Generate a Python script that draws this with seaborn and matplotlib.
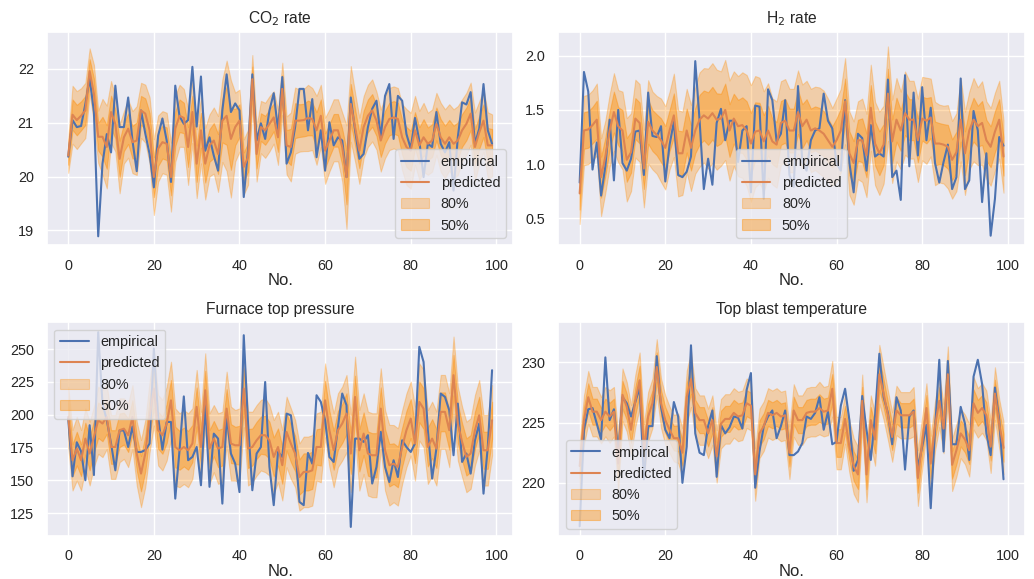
import numpy as np
import pandas as pd
import matplotlib
matplotlib.use("Agg")
import matplotlib.pyplot as plt
import seaborn as sns

# ---------------- data ----------------
idx = list(range(100))

co2_emp = [20.37, 21.05, 20.92, 20.94, 21.35, 21.83, 21.2, 18.89, 20.24, 20.79,
           20.45, 21.69, 20.92, 20.92, 21.47, 20.67, 20.1, 21.23, 20.8, 20.42,
           19.8, 20.76, 21.08, 20.67, 19.9, 21.69, 21.12, 20.98, 21.05, 22.04,
           20.93, 21.86, 20.48, 20.73, 20.39, 20.11, 21.23, 21.9, 21.2, 21.36,
           21.23, 19.62, 20.5, 21.9, 20.67, 20.99, 20.7, 21.23, 21.55, 20.87,
           21.85, 20.24, 20.45, 20.92, 21.63, 21.63, 20.86, 21.44, 20.36, 20.86,
           20.11, 21.01, 20.58, 20.73, 20.67, 19.99, 21.47, 20.86, 20.33, 20.42,
           20.92, 21.26, 21.41, 20.73, 21.5, 21.72, 20.7, 21.5, 21.41, 20.79,
           20.52, 21.09, 20.67, 19.99, 20.61, 20.55, 21.2, 20.61, 20.45, 20.64,
           19.74, 20.73, 21.38, 21.34, 21.57, 20.61, 20.89, 21.72, 20.86, 20.61]
co2_pred = [20.39, 21.15, 21.05, 21.13, 21.23, 21.96, 21.54, 20.74, 20.74, 20.55,
            21.2, 20.98, 20.33, 20.73, 20.89, 20.64, 20.67, 21.23, 21.17, 20.86,
            19.99, 20.52, 20.64, 20.61, 19.99, 20.89, 21.13, 21.09, 20.55, 21.2,
            20.24, 20.86, 20.24, 20.58, 20.67, 20.42, 21.04, 21.13, 20.7, 20.92,
            21.04, 20.18, 20.36, 21.81, 20.42, 20.92, 20.86, 20.98, 21.1, 20.73,
            21.63, 20.58, 20.55, 21.04, 21.04, 21.05, 21.09, 21.07, 20.86, 21.13,
            20.48, 20.67, 20.86, 20.86, 20.55, 19.99, 21.35, 20.92, 20.48, 20.92,
            21.13, 21.23, 21.04, 20.67, 20.92, 21.07, 21.1, 21.07, 20.73, 20.55,
            20.48, 20.86, 20.58, 20.73, 20.61, 20.67, 20.98, 20.73, 20.61, 20.73,
            20.61, 20.67, 20.86, 20.98, 21.17, 20.55, 20.82, 21.04, 20.58, 20.58]
co2_sd = [0.25, 0.42, 0.42, 0.40, 0.40, 0.33, 0.42, 0.38, 0.55, 0.60,
          0.45, 0.40, 0.50, 0.38, 0.42, 0.45, 0.50, 0.40, 0.42, 0.48,
          0.55, 0.48, 0.45, 0.45, 0.50, 0.48, 0.45, 0.42, 0.55, 0.45,
          0.50, 0.48, 0.52, 0.45, 0.48, 0.55, 0.60, 0.80, 0.85, 0.50,
          0.45, 0.40, 0.40, 0.35, 0.40, 0.38, 0.40, 0.40, 0.38, 0.40,
          0.38, 0.42, 0.50, 0.48, 0.45, 0.45, 0.48, 0.45, 0.50, 0.45,
          0.48, 0.45, 0.45, 0.45, 0.50, 0.75, 0.55, 0.50, 0.48, 0.45,
          0.45, 0.45, 0.42, 0.45, 0.45, 0.45, 0.45, 0.45, 0.48, 0.55,
          0.55, 0.50, 0.50, 0.50, 0.45, 0.45, 0.45, 0.50, 0.50, 0.48,
          0.50, 0.50, 0.45, 0.45, 0.45, 0.50, 0.45, 0.45, 0.48, 0.45]

h2_emp = [0.83, 1.85, 1.67, 0.95, 1.2, 0.71, 0.98, 1.41, 0.85, 1.5,
          1.01, 0.94, 1.05, 1.3, 1.31, 0.9, 1.66, 1.26, 1.25, 1.35,
          0.84, 1.18, 1.39, 0.9, 0.88, 0.93, 1.07, 1.95, 1.41, 0.77,
          1.05, 0.81, 1.38, 1.51, 1.22, 1.4, 1.4, 1.02, 1.31, 1.35,
          0.74, 1.54, 1.53, 0.68, 1.69, 1.59, 1.21, 1.28, 1.59, 0.9,
          0.79, 1.72, 1.02, 0.94, 1.22, 1.31, 1.33, 1.65, 1.4, 1.33,
          1.01, 0.94, 1.59, 1.01, 0.74, 1.28, 1.24, 0.94, 1.36, 1.07,
          1.1, 1.07, 1.78, 0.88, 0.94, 0.67, 1.82, 0.98, 1.66, 1.08,
          1.71, 1.22, 1.52, 1.01, 0.83, 1.02, 1.18, 0.77, 0.88, 1.79,
          0.77, 0.85, 1.49, 1.31, 0.65, 1.1, 0.34, 0.68, 1.25, 1.17]
h2_pred = [0.73, 1.31, 1.32, 1.36, 1.41, 0.88, 1.07, 1.31, 1.48, 1.35,
           1.31, 1.04, 1.11, 1.42, 1.38, 0.96, 1.39, 1.31, 1.27, 1.22,
           1.15, 1.31, 1.45, 1.1, 1.1, 1.31, 1.15, 1.31, 1.41, 1.45,
           1.42, 1.47, 1.41, 1.42, 1.5, 1.31, 1.42, 1.35, 1.36, 1.31,
           1.19, 1.3, 1.31, 1.21, 1.31, 1.21, 1.18, 1.38, 1.4, 1.31,
           1.31, 1.48, 1.35, 1.41, 1.31, 1.33, 1.31, 1.28, 1.22, 1.16,
           1.22, 1.31, 1.58, 1.1, 1.01, 1.22, 1.22, 1.08, 1.52, 1.19,
           1.1, 1.18, 1.65, 1.21, 1.41, 1.31, 1.47, 1.41, 1.41, 1.22,
           1.42, 1.4, 1.43, 1.19, 1.19, 1.18, 1.16, 1.04, 1.11, 1.41,
           1.1, 1.31, 1.41, 1.35, 1.38, 1.22, 1.16, 1.3, 1.41, 1.07]
h2_sd = [0.22, 0.25, 0.25, 0.25, 0.26, 0.28, 0.26, 0.26, 0.28, 0.26,
         0.28, 0.30, 0.28, 0.28, 0.28, 0.28, 0.30, 0.28, 0.28, 0.30,
         0.30, 0.28, 0.30, 0.31, 0.30, 0.30, 0.31, 0.31, 0.34, 0.34,
         0.36, 0.36, 0.36, 0.34, 0.36, 0.36, 0.34, 0.36, 0.38, 0.40,
         0.42, 0.40, 0.38, 0.36, 0.34, 0.31, 0.31, 0.30, 0.30, 0.30,
         0.30, 0.30, 0.30, 0.28, 0.30, 0.30, 0.31, 0.31, 0.30, 0.28,
         0.30, 0.30, 0.31, 0.30, 0.30, 0.28, 0.30, 0.30, 0.31, 0.30,
         0.30, 0.28, 0.34, 0.30, 0.30, 0.28, 0.30, 0.28, 0.28, 0.30,
         0.30, 0.31, 0.28, 0.30, 0.28, 0.28, 0.30, 0.28, 0.28, 0.30,
         0.30, 0.28, 0.30, 0.28, 0.30, 0.28, 0.28, 0.28, 0.28, 0.26]

pres_emp = [197, 153, 179, 172, 150, 192, 154, 263, 208.5, 196,
            178, 157.6, 188, 188, 175.4, 191, 171.6, 171.6, 173, 178,
            250.5, 198.3, 173.4, 194.5, 194.5, 136, 173, 214, 165.3, 167.8,
            175.4, 146.2, 208.5, 145, 185.6, 181.8, 132.2, 199.6, 170.4, 162.7,
            141, 260.7, 193.3, 142.4, 170.4, 175.4, 225, 160.2, 131, 171.6,
            167.8, 200.9, 199.6, 175.4, 133.5, 131, 170.9, 162.7, 214.9, 209.8,
            195.8, 167.8, 164, 190.7, 216.2, 207.3, 114.4, 181.8, 181.8, 179.3,
            184.4, 147.5, 160.2, 186.9, 160.2, 148.7, 165.3, 152.5, 180.5, 175.4,
            171.6, 178, 251.8, 240.3, 188.2, 151.3, 174.2, 216.2, 213.6, 203.4,
            169.1, 208.5, 164, 170.4, 155.1, 180.5, 193.3, 139.8, 175.4, 234]
pres_pred = [198.3, 165.3, 174.2, 165.3, 181.8, 170.4, 183.1, 195.8, 193.3, 198.3,
             175.4, 175.4, 188.2, 189.4, 184.4, 198.3, 170.4, 155.1, 170.4, 198.3,
             220, 188.2, 184.4, 193.3, 211, 175.4, 172.9, 175.4, 172.9, 178,
             206, 175.4, 218.7, 174.2, 181.8, 174.2, 175.4, 204.7, 178, 176.7,
             176.7, 220, 174.2, 175.4, 180.5, 184.4, 184.4, 180.5, 167.8, 175.4,
             161.5, 186.9, 178, 170.4, 152.5, 156.4, 156.4, 157.6, 175.4, 175.4,
             211, 188.2, 172.9, 188.2, 193.3, 200.9, 170.4, 213.6, 172.9, 185.6,
             170.4, 169.1, 169.1, 204.7, 172.9, 161.5, 162.7, 160.2, 175.4, 188.2,
             197.1, 178, 209.8, 204.7, 175.4, 181.8, 174.2, 202.2, 202.2, 188.2,
             230.2, 193.3, 179.3, 167.8, 170.4, 188.2, 199.6, 172.9, 172.9, 195.8]
pres_sd = [18, 18, 19, 18, 18, 19, 18, 20, 20, 19,
           19, 19, 19, 18, 19, 19, 19, 20, 20, 21,
           22, 21, 21, 22, 23, 23, 22, 22, 22, 21,
           22, 21, 22, 21, 20, 21, 21, 22, 22, 21,
           22, 23, 22, 21, 21, 21, 22, 21, 22, 21,
           21, 21, 21, 20, 20, 21, 21, 21, 20, 21,
           22, 22, 22, 22, 22, 23, 23, 24, 24, 24,
           25, 25, 25, 24, 24, 24, 23, 23, 22, 22,
           22, 22, 23, 23, 22, 22, 22, 22, 22, 22,
           23, 22, 21, 21, 21, 21, 21, 21, 21, 21]

temp_emp = [216.4, 224.4, 226.1, 226.2, 224.9, 223.6, 230.4, 225.2, 226.1, 222.5,
            227.1, 226.6, 225.5, 226.7, 227.9, 220.3, 224.7, 224.7, 230.5, 226.3,
            224.4, 223.7, 226.7, 225.5, 220.0, 223.0, 231.4, 224.1, 222.5, 222.3,
            224.7, 226.0, 220.5, 224.8, 224.1, 224.6, 225.5, 225.4, 224.5, 227.7,
            229.1, 219.6, 222.6, 224.7, 225.5, 226.0, 223.7, 224.7, 226.0, 222.3,
            222.3, 222.6, 223.3, 225.5, 225.3, 225.8, 227.1, 224.4, 225.9, 223.2,
            223.4, 226.4, 227.8, 225.2, 221.0, 221.9, 227.2, 224.4, 221.9, 225.6,
            230.7, 227.1, 225.8, 223.2, 227.1, 226.0, 221.1, 225.5, 226.0, 221.2,
            223.0, 224.8, 217.9, 224.4, 230.2, 222.6, 230.1, 223.2, 223.2, 226.3,
            224.9, 221.9, 228.8, 230.2, 228.2, 224.1, 222.3, 227.9, 225.2, 220.3]
temp_pred = [221.4, 225.2, 227.1, 225.9, 225.9, 225.2, 225.9, 225.5, 225.9, 221.6,
             227.3, 226.3, 224.4, 226.8, 228.5, 222.7, 225.5, 226.6, 229.6, 226.6,
             225.2, 224.4, 223.7, 223.7, 222.5, 227.1, 228.6, 225.8, 225.2, 225.2,
             224.1, 225.2, 222.2, 224.9, 225.3, 225.3, 225.8, 225.5, 225.6, 226.6,
             226.4, 220.7, 224.1, 224.7, 225.8, 225.6, 225.8, 225.5, 225.6, 222.5,
             226.0, 225.2, 225.2, 225.8, 225.9, 225.9, 226.2, 225.9, 226.0, 227.8,
             223.3, 223.3, 225.3, 223.0, 221.4, 220.7, 226.8, 220.7, 225.2, 223.6,
             229.0, 227.4, 225.6, 223.8, 226.0, 225.6, 225.6, 225.6, 225.9, 220.4,
             223.3, 226.2, 221.6, 224.7, 226.8, 224.5, 229.0, 221.5, 222.7, 224.1,
             223.6, 222.7, 226.6, 225.8, 226.2, 225.6, 223.0, 227.4, 224.9, 222.9]
temp_sd = [1.5, 1.6, 1.7, 1.6, 1.6, 1.5, 1.6, 1.7, 1.6, 1.8,
           1.7, 1.6, 1.6, 1.7, 1.8, 1.7, 1.6, 1.6, 1.8, 1.6,
           1.6, 1.5, 1.5, 1.6, 1.6, 1.7, 1.8, 1.6, 1.6, 1.6,
           1.6, 1.6, 1.7, 1.6, 1.6, 1.6, 1.6, 1.6, 1.6, 1.6,
           1.6, 1.7, 1.6, 1.6, 1.6, 1.6, 1.6, 1.6, 1.6, 1.7,
           1.7, 1.6, 1.6, 1.6, 1.6, 1.6, 1.7, 1.6, 1.6, 1.8,
           1.7, 1.7, 1.6, 1.7, 1.8, 1.8, 1.7, 1.8, 1.6, 1.7,
           1.9, 1.7, 1.6, 1.6, 1.6, 1.5, 1.5, 1.5, 1.6, 1.8,
           1.7, 1.6, 1.8, 1.6, 1.7, 1.6, 1.8, 1.7, 1.7, 1.6,
           1.6, 1.7, 1.7, 1.6, 1.6, 1.6, 1.7, 1.7, 1.6, 1.7]

titles = ["CO$_2$ rate", "H$_2$ rate", "Furnace top pressure", "Top blast temperature"]
legend_locs = ["lower right", "lower center", "upper left", "lower left"]
ylims = [(18.72, 22.69), (0.25, 2.22), (107.5, 270.5), (215.6, 233.3)]

# quantile multipliers for the 80% and 50% central intervals
Z80, Z50 = 1.2816, 0.6745

# ---------------- plotting ----------------
sns.set_theme(style="darkgrid", font_scale=0.94)
plt.rcParams["font.family"] = ["Liberation Sans", "DejaVu Sans"]

fig, axes = plt.subplots(2, 2, figsize=(10.34, 5.79), dpi=100)
fig.subplots_adjust(left=0.0455, right=0.991, top=0.945, bottom=0.0743,
                    wspace=0.097, hspace=0.36)
series = [(co2_emp, co2_pred, co2_sd), (h2_emp, h2_pred, h2_sd),
          (pres_emp, pres_pred, pres_sd), (temp_emp, temp_pred, temp_sd)]

for ax, (emp, pred, sd), title, loc, yl in zip(axes.flat, series, titles, legend_locs, ylims):
    df = pd.DataFrame({"No.": idx, "empirical": emp, "predicted": pred, "sd": sd})
    p = df["predicted"].to_numpy()
    s = df["sd"].to_numpy()
    sns.lineplot(data=df, x="No.", y="empirical", ax=ax, color="C0", lw=1.5, label="empirical")
    sns.lineplot(data=df, x="No.", y="predicted", ax=ax, color="C1", lw=1.5, label="predicted")
    ax.fill_between(df["No."], p - Z80 * s, p + Z80 * s, color="darkorange", alpha=0.3,
                    linewidth=0.8, label="80%")
    ax.fill_between(df["No."], p - Z50 * s, p + Z50 * s, color="darkorange", alpha=0.4,
                    linewidth=0.8, label="50%")
    ax.set_title(title)
    ax.set_ylabel("")
    ax.set_xlabel("No.", fontsize=12, labelpad=0.5)
    ax.set_ylim(*yl)
    ax.legend(loc=loc)

fig.savefig("out.png", dpi=100)
